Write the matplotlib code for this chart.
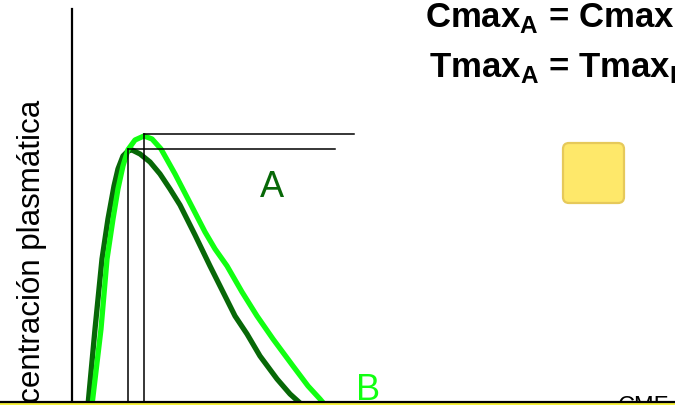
import matplotlib
matplotlib.use("Agg")
import matplotlib.pyplot as plt
from matplotlib.patches import FancyBboxPatch, Rectangle
from matplotlib.lines import Line2D

plt.rcParams["font.family"] = ["Liberation Sans", "DejaVu Sans"]
plt.rcParams["mathtext.fontset"] = "custom"
plt.rcParams["mathtext.rm"] = "Liberation Sans"
plt.rcParams["mathtext.bf"] = "Liberation Sans:bold"

# curve A (dark green), time [h] vs concentration
t_a = [0.318, 0.458, 0.597, 0.716, 0.836, 0.915, 1.015, 1.114, 1.194, 1.353, 1.552, 1.751,
       1.950, 2.149, 2.448, 2.746, 3.005, 3.244, 3.483, 3.741, 4.080, 4.338, 4.537]
c_a = [-0.74, 18.11, 35.48, 45.41, 53.60, 57.82, 61.04, 62.28, 62.53, 61.54, 59.55, 56.58,
       52.85, 48.88, 41.44, 33.75, 27.30, 21.34, 16.87, 11.41, 5.71, 1.99, -0.25]
# curve B (light green)
t_b = [0.398, 0.577, 0.697, 0.816, 0.915, 1.015, 1.114, 1.254, 1.433, 1.592, 1.771, 2.050,
       2.308, 2.647, 2.846, 3.085, 3.383, 3.682, 4.000, 4.398, 4.697, 4.935, 5.035]
c_b = [-0.74, 18.11, 35.48, 45.41, 52.90, 58.60, 62.60, 65.00, 66.00, 65.26, 62.78, 56.58,
       50.37, 42.18, 37.97, 33.75, 27.30, 21.34, 15.63, 8.93, 3.97, 0.74, -0.74]

tmax = [1.11, 1.43]     # A, B
cmax = [62.8, 66.5]
ref_end = [5.23, 5.61]  # where the Cmax guide lines stop

color_a, color_b = "#076807", "#11ff11"

fig = plt.figure(figsize=(6.75, 4.06), dpi=100)
ax = fig.add_axes([72 / 675, 3 / 406, 603 / 675, 393 / 406])
ax.set_xlim(0, 12)
ax.set_ylim(0, 97.5)
for s in ["top", "right", "bottom"]:
    ax.spines[s].set_visible(False)
ax.spines["left"].set_linewidth(1.6)
ax.set_xticks([])
ax.set_yticks([])

# guide lines for tmax / cmax
for tm, cm, end in zip(tmax, cmax, ref_end):
    ax.plot([tm, tm], [0, cm], c="black", lw=1.1, zorder=3)
    ax.plot([tm, end], [cm, cm], c="black", lw=1.1, zorder=3)

ax.plot(t_a, c_a, c=color_a, lw=3.8, solid_joinstyle="round", solid_capstyle="round", zorder=2)
ax.plot(t_b, c_b, c=color_b, lw=3.8, solid_joinstyle="round", solid_capstyle="round", zorder=2.5)

# labels
fig.text(272 / 675, 1 - 197 / 406, "A", color=color_a, fontsize=26, ha="center", va="baseline")
fig.text(368 / 675, 1 - 400 / 406, "B", color=color_b, fontsize=26, ha="center", va="baseline")
fig.text(618 / 675, 1 - 413 / 406, "CMF", color="black", fontsize=17, ha="left", va="baseline")

fig.text(40 / 675, 1 - 100 / 406, "Concentración plasmática", fontsize=22.5, rotation=90,
         rotation_mode="anchor", ha="right", va="baseline")

fig.text(425 / 675, 1 - 18 / 406, r"Cmax$_\mathbf{A}$ = Cmax$_\mathbf{B}$", fontsize=25,
         fontweight="bold", ha="left", va="center")
fig.text(429 / 675, 1 - 68 / 406, r"Tmax$_\mathbf{A}$ = Tmax$_\mathbf{B}$", fontsize=25,
         fontweight="bold", ha="left", va="center")

# yellow sticky box
fig.patches.append(FancyBboxPatch((563, 202), 61, 60, boxstyle="round,pad=0,rounding_size=6",
                                  transform=None, facecolor="#fee86a", edgecolor="#e6c95a",
                                  linewidth=1.6, figure=fig))

# bottom band
fig.patches.append(Rectangle((0, 0), 1, 2.5 / 406, transform=fig.transFigure,
                             facecolor="#f5f03a", edgecolor="none", zorder=10, figure=fig))
fig.lines.append(Line2D([0, 1], [3 / 406, 3 / 406], transform=fig.transFigure,
                        color="black", lw=1.6, zorder=11, figure=fig))

fig.savefig("out.png", dpi=100)
